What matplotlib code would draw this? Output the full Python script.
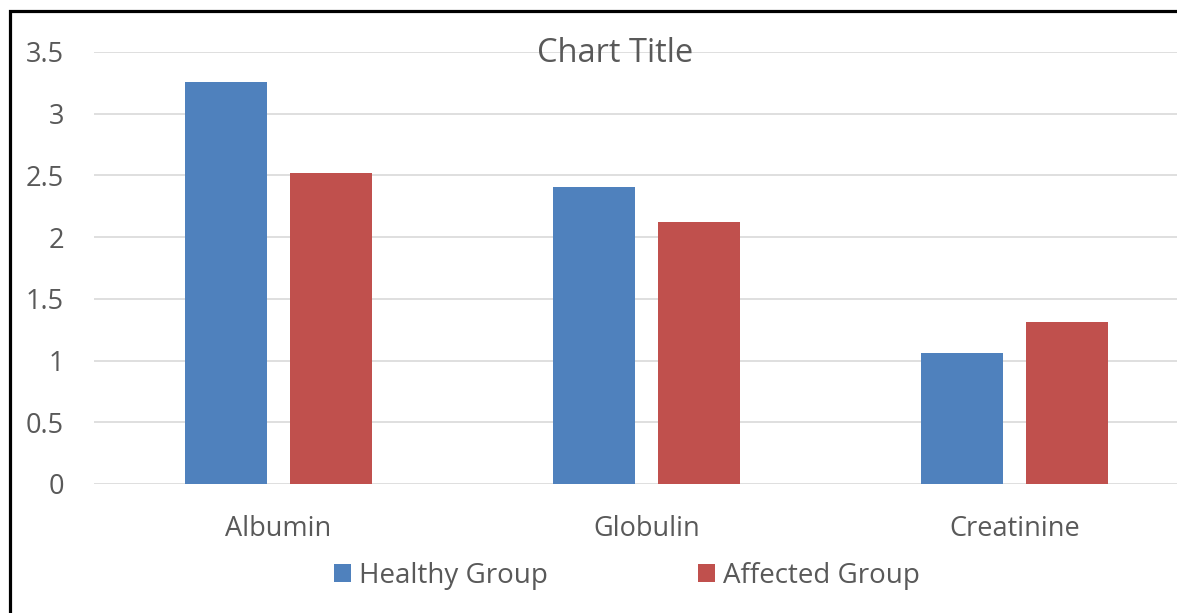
import matplotlib
matplotlib.use("Agg")
import matplotlib.pyplot as plt
from matplotlib.patches import Rectangle
import numpy as np

categories = ["Albumin", "Globulin", "Creatinine"]
healthy = [3.26, 2.41, 1.06]
affected = [2.52, 2.12, 1.31]
series_names = ["Healthy Group", "Affected Group"]
yticks = [0, 0.5, 1, 1.5, 2, 2.5, 3, 3.5]
ytick_labels = ["0", "0.5", "1", "1.5", "2", "2.5", "3", "3.5"]

BLUE = "#4F81BD"
RED = "#C0504D"
TEXT = "#595959"
GRID = "#D9D9D9"

plt.rcParams["font.family"] = ["Open Sans", "DejaVu Sans"]

W, H = 1177, 613
dpi = 100
fig = plt.figure(figsize=(W / dpi, H / dpi), dpi=dpi)

# plot area in pixel terms, converted to figure fractions
left_px, right_px = 94, 1199
top_px, bottom_px = 52, 484
ax = fig.add_axes([left_px / W, (H - bottom_px) / H,
                   (right_px - left_px) / W, (bottom_px - top_px) / H])

x = np.arange(len(categories))
width = 0.2225
offset = 0.1425
ax.bar(x - offset, healthy, width, color=BLUE, label=series_names[0], zorder=3)
ax.bar(x + offset, affected, width, color=RED, label=series_names[1], zorder=3)

ax.set_xlim(-0.5, len(categories) - 0.5)
ax.set_ylim(0, 3.5)
ax.set_yticks(yticks)
ax.set_yticklabels(ytick_labels)
ax.set_xticks(x)
ax.set_xticklabels(categories)

ax.yaxis.grid(True, color=GRID, linewidth=1.2, zorder=0)
ax.set_axisbelow(True)
for s in ax.spines.values():
    s.set_visible(False)
ax.tick_params(axis="both", length=0, labelsize=19.5, labelcolor=TEXT)
ax.tick_params(axis="y", pad=21.5)
ax.tick_params(axis="x", pad=22.5)

fig.text(615 / W, (H - 54) / H, "Chart Title", ha="center", va="center",
         fontsize=23.5, color=TEXT)

leg = fig.legend(loc="center", bbox_to_anchor=(627 / W, (H - 576) / H),
                 ncol=2, frameon=False, fontsize=20,
                 handlelength=0.6, handleheight=0.6, handletextpad=0.3,
                 columnspacing=5.4)
for t in leg.get_texts():
    t.set_color(TEXT)

# outer chart frame (left and top edges visible)
fig.patches.append(Rectangle((9.5 / W, -0.1), 1.2, (H - 11) / H + 0.1,
                             transform=fig.transFigure, fill=False,
                             edgecolor="black", linewidth=2.3))

fig.savefig("out.png", dpi=dpi)
